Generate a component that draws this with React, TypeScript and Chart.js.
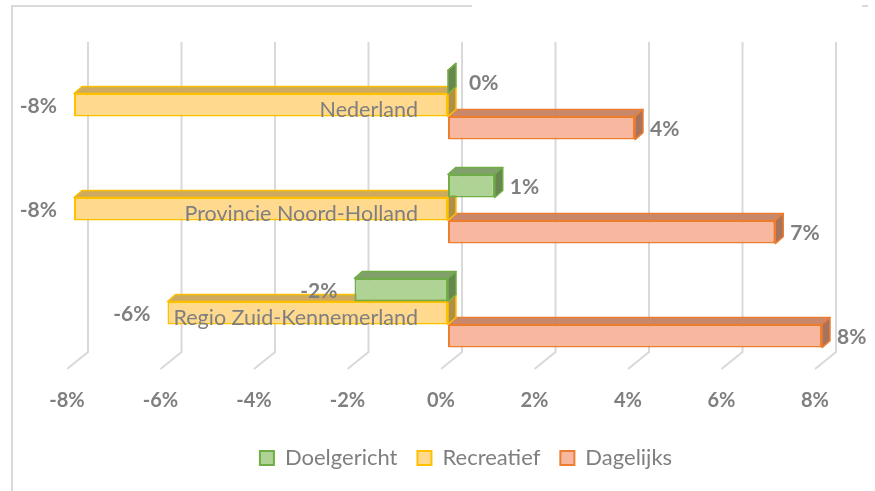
import React, { useEffect, useRef } from 'react';
import { Chart, registerables } from 'chart.js';

Chart.register(...registerables);

const categories = ['Nederland', 'Provincie Noord-Holland', 'Regio Zuid-Kennemerland'];
const seriesNames = ['Doelgericht', 'Recreatief', 'Dagelijks'];
const doelgericht = [0, 1, -2];
const recreatief = [-8, -8, -6];
const dagelijks = [4, 7, 8];
const xTicks = [-8, -6, -4, -2, 0, 2, 4, 6, 8];

const FONT = 'Lato, "Open Sans", sans-serif';
const GRAY = '#7f7f7f';
const GRID = '#d9d9d9';

const fronts = ['#AED395', '#FFDA8E', '#F8B8A0'];
const borders = ['#70AD47', '#FFC000', '#ED7D31'];
const topFaces = ['#82A06C', '#CDAA60', '#C8886C'];
const sideFaces = ['#68874F', '#B08F48', '#A8735C'];
const DX = 8;
const DY = -7;
const LEGEND_SHIFT = 18;

const threeD = {
  id: 'threeD',
  afterLayout(chart: any) {
    if (chart.legend) {
      chart.legend.left += LEGEND_SHIFT;
      chart.legend.right += LEGEND_SHIFT;
    }
  },
  beforeDatasetsDraw(chart: any) {
    const ctx = chart.ctx;
    const xs = chart.scales.x;
    const area = chart.chartArea;
    ctx.save();
    ctx.strokeStyle = GRID;
    ctx.lineWidth = 2;
    ctx.beginPath();
    ctx.moveTo(12, 491);
    ctx.lineTo(12, 6);
    ctx.lineTo(472, 6);
    ctx.moveTo(862, 6);
    ctx.lineTo(868, 6);
    ctx.stroke();
    xTicks.forEach((v) => {
      const px = xs.getPixelForValue(v);
      ctx.beginPath();
      ctx.moveTo(px + 14, 42);
      ctx.lineTo(px + 14, area.bottom - 13);
      ctx.lineTo(px - 7, area.bottom + 4);
      ctx.stroke();
    });
    ctx.restore();
  },
  afterDatasetDraw(chart: any, args: any) {
    const i = args.index;
    const meta = args.meta;
    const ctx = chart.ctx;
    meta.data.forEach((bar: any) => {
      const { x, y, base, height } = bar.getProps(['x', 'y', 'base', 'height'], true);
      const left = Math.min(x, base);
      const right = Math.max(x, base);
      const top = y - height / 2;
      const bottom = y + height / 2;
      ctx.save();
      ctx.lineWidth = 1.5;
      ctx.lineJoin = 'round';
      ctx.strokeStyle = borders[i];
      ctx.fillStyle = topFaces[i];
      ctx.beginPath();
      ctx.moveTo(left, top);
      ctx.lineTo(left + DX, top + DY);
      ctx.lineTo(right + DX, top + DY);
      ctx.lineTo(right, top);
      ctx.closePath();
      ctx.fill();
      ctx.stroke();
      ctx.fillStyle = sideFaces[i];
      ctx.beginPath();
      ctx.moveTo(right, top);
      ctx.lineTo(right + DX, top + DY);
      ctx.lineTo(right + DX, bottom + DY);
      ctx.lineTo(right, bottom);
      ctx.closePath();
      ctx.fill();
      ctx.stroke();
      ctx.restore();
    });
  },
  afterDatasetsDraw(chart: any) {
    const ctx = chart.ctx;
    const ys = chart.scales.y;
    const xs = chart.scales.x;
    ctx.save();
    ctx.font = `21.5px ${FONT}`;
    ctx.fillStyle = GRAY;
    ctx.textAlign = 'right';
    ctx.textBaseline = 'middle';
    categories.forEach((c, idx) => {
      ctx.fillText(c, xs.getPixelForValue(0) - 30, ys.getPixelForValue(idx) + 5);
    });
    ctx.font = `bold 21px ${FONT}`;
    chart.data.datasets.forEach((ds: any, di: number) => {
      const meta = chart.getDatasetMeta(di);
      meta.data.forEach((bar: any, j: number) => {
        const v = ds.data[j];
        const { x, y, base } = bar.getProps(['x', 'y', 'base'], true);
        const txt = `${v}%`;
        if (v >= 0) {
          ctx.textAlign = 'left';
          ctx.fillText(txt, Math.max(x, base) + (v === 0 ? 21 : 15), y + 1);
        } else {
          ctx.textAlign = 'right';
          ctx.fillText(txt, Math.min(x, base) - 17, y + 1);
        }
      });
    });
    ctx.restore();
  },
};

export default function App() {
  const ref = useRef<HTMLCanvasElement | null>(null);
  useEffect(() => {
    document.body.style.margin = '0';
    const canvas = ref.current;
    if (!canvas) return;
    const values = [doelgericht, recreatief, dagelijks];
    const chart = new Chart(canvas, {
      type: 'bar',
      data: {
        labels: categories,
        datasets: seriesNames.map((name, i) => ({
          label: name,
          data: values[i],
          backgroundColor: fronts[i],
          borderColor: borders[i],
          borderWidth: 2,
          borderSkipped: false,
          categoryPercentage: 0.665,
          barPercentage: 1,
        })),
      },
      options: {
        indexAxis: 'y',
        animation: false,
        responsive: true,
        maintainAspectRatio: false,
        layout: { padding: { left: 74, right: 53, top: 53, bottom: 12 } },
        scales: {
          x: {
            min: -8,
            max: 8,
            afterBuildTicks: (s: any) => {
              s.ticks = xTicks.map((v) => ({ value: v }));
            },
            afterFit: (s: any) => {
              s.height = 62;
            },
            grid: { display: false, drawTicks: false },
            border: { display: false },
            ticks: {
              callback: (v: any) => `${v}%`,
              color: GRAY,
              font: { family: FONT, size: 20, weight: 'bold' },
              padding: 24,
              labelOffset: -7,
              maxRotation: 0,
            },
          },
          y: {
            display: false,
          },
        },
        plugins: {
          legend: {
            position: 'bottom',
            labels: {
              boxWidth: 14,
              boxHeight: 14,
              color: GRAY,
              font: { family: FONT, size: 22 },
              padding: 20,
            },
          },
          tooltip: { enabled: false },
        },
      },
      plugins: [threeD],
    } as any);
    return () => chart.destroy();
  }, []);
  return (
    <div style={{ width: 875, height: 491, position: 'relative' }}>
      <canvas ref={ref} />
    </div>
  );
}
